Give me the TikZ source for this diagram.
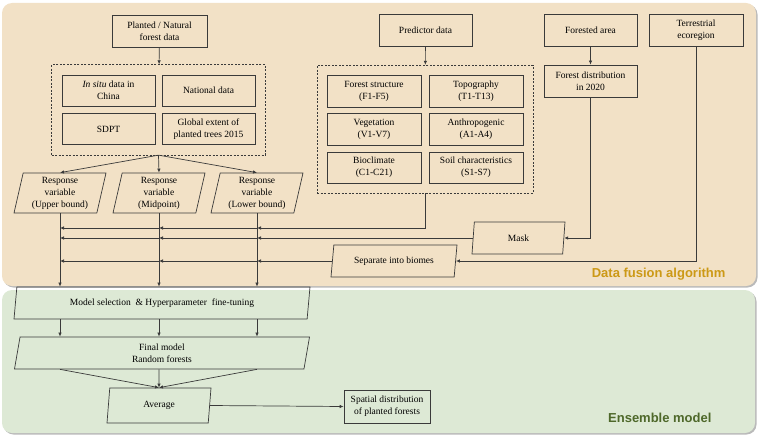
\documentclass[tikz,border=0pt]{standalone}
\usepackage{fontspec}
\setmainfont{Liberation Serif}
\newfontfamily\headfont{Liberation Sans}
\usetikzlibrary{shapes.geometric,arrows.meta,fit,shadows}
\definecolor{fusionbg}{RGB}{242,225,198}
\definecolor{ensemblebg}{RGB}{221,233,213}
\definecolor{fusiontxt}{RGB}{204,153,22}
\definecolor{ensembletxt}{RGB}{78,104,42}
\definecolor{linec}{RGB}{58,58,58}

\begin{document}
\begin{tikzpicture}[x=1pt,y=-1pt,
  box/.style={draw=linec, line width=0.7pt, align=center, inner sep=1pt,
    minimum width=93pt, minimum height=32pt, font=\fontsize{9.5}{12}\selectfont},
  para/.style={box, trapezium, trapezium left angle=75, trapezium right angle=105,
    trapezium stretches body},
  grp/.style={draw=linec, line width=0.6pt, dash pattern=on 2pt off 1.5pt},
  ln/.style={draw=linec, line width=0.7pt},
  arr/.style={ln, -{Latex[length=4pt,width=3.5pt]}},
  panel/.style={rounded corners=10pt, drop shadow={shadow xshift=1.5pt,
    shadow yshift=-1.5pt, fill=black!45, opacity=0.6}},
  ]
\useasboundingbox (0,0) rectangle (760,436);

% background panels
\path[panel, fill=fusionbg] (2,3) rectangle (756,286);
\path[panel, fill=ensemblebg] (2,290) rectangle (755,433);
\node[anchor=east, text=fusiontxt, font=\headfont\bfseries\fontsize{13}{15}\selectfont]
  (fusiontitle) at (729,274) {Data fusion algorithm};
\node[anchor=east, text=ensembletxt, font=\headfont\bfseries\fontsize{13}{15}\selectfont]
  (ensembletitle) at (715,418) {Ensemble model};

% response data
\node[box, minimum width=95pt] (planted) at (159.5,31) {Planted / Natural\\forest data};
\node[box, minimum height=31pt] (insitu) at (108.5,90.5) {\textit{In situ} data in\\China};
\node[box, minimum height=31pt] (national) at (208.5,90.5) {National data};
\node[box, minimum height=31pt] (sdpt) at (108.5,129) {SDPT};
\node[box, minimum height=31pt] (global) at (208.5,129) {Global extent of\\planted trees 2015};
\node[grp, inner sep=10pt, fit=(insitu)(global)] (datagrp) {};

\node[para, minimum width=92pt, minimum height=40pt] (r1) at (60,193) {Response\\variable\\(Upper bound)};
\node[para, minimum width=92pt, minimum height=40pt] (r2) at (159,193) {Response\\variable\\(Midpoint)};
\node[para, minimum width=92pt, minimum height=40pt] (r3) at (257,193) {Response\\variable\\(Lower bound)};

% predictors
\node[box] (pred) at (425.5,30) {Predictor data};
\node[box, minimum width=94pt] (fstruct) at (374,91) {Forest structure\\(F1-F5)};
\node[box, minimum width=94pt] (topo) at (476,91) {Topography\\(T1-T13)};
\node[box, minimum width=94pt] (veg) at (374,129) {Vegetation\\(V1-V7)};
\node[box, minimum width=94pt] (anthro) at (476,129) {Anthropogenic\\(A1-A4)};
\node[box, minimum width=94pt, minimum height=31pt] (bioclim) at (374,167.5) {Bioclimate\\(C1-C21)};
\node[box, minimum width=94pt, minimum height=31pt] (soil) at (476,167.5) {Soil characteristics\\(S1-S7)};
\node[grp, inner sep=9.5pt, fit=(fstruct)(soil)] (predgrp) {};

\node[box] (forested) at (590.5,30) {Forested area};
\node[box] (fdist) at (590.5,81) {Forest distribution\\in 2020};
\node[box, minimum width=94pt] (terr) at (696,30) {Terrestrial\\ecoregion};

\node[para, minimum width=93pt] (mask) at (518.5,238) {Mask};
\node[para, minimum width=126pt] (sep) at (394,261) {Separate into biomes};

% ensemble
\node[para, minimum width=296pt] (msel) at (162,303) {Model selection \ \& Hyperparameter \ fine-tuning};
\node[para, minimum width=295pt] (fmod) at (162,353) {Final model\\Random forests};
\node[para, minimum width=104pt, minimum height=35pt] (avg) at (159,405.5) {Average};
\node[box, minimum width=86pt, minimum height=33pt] (spatial) at (387,406.5) {Spatial distribution\\of planted forests};

\coordinate (lvpred) at (0,228);

\draw[arr] (planted) -- (datagrp);
\draw[arr] (pred) -- (predgrp);
\draw[arr] (forested) -- (fdist);
\foreach \r in {r1,r2,r3}
  \draw[arr] (datagrp.south) -- (\r.north);

\draw[arr] (predgrp.south) |- (r3 |- lvpred);
\draw[arr] (fdist.south) |- (mask.east);
\draw[arr] (terr.south) |- (sep.east);
\draw[arr] (mask.west) -- (r3 |- mask.west);
\draw[arr] (sep.west) -- (r3 |- sep.west);
\foreach \y in {lvpred,mask.west,sep.west} {
  \draw[arr] (r3 |- \y) -- (r2 |- \y);
  \draw[arr] (r2 |- \y) -- (r1 |- \y);
}

\foreach \r in {r1,r2,r3} {
  \draw[arr] (\r.south) -- (\r.south |- msel.north);
  \draw[arr] (\r.south |- msel.south) -- (\r.south |- fmod.north);
  \draw[arr] (\r.south |- fmod.south) -- (avg.north);
}
\draw[arr] (avg.east) -- (spatial.west);
\end{tikzpicture}
\end{document}
